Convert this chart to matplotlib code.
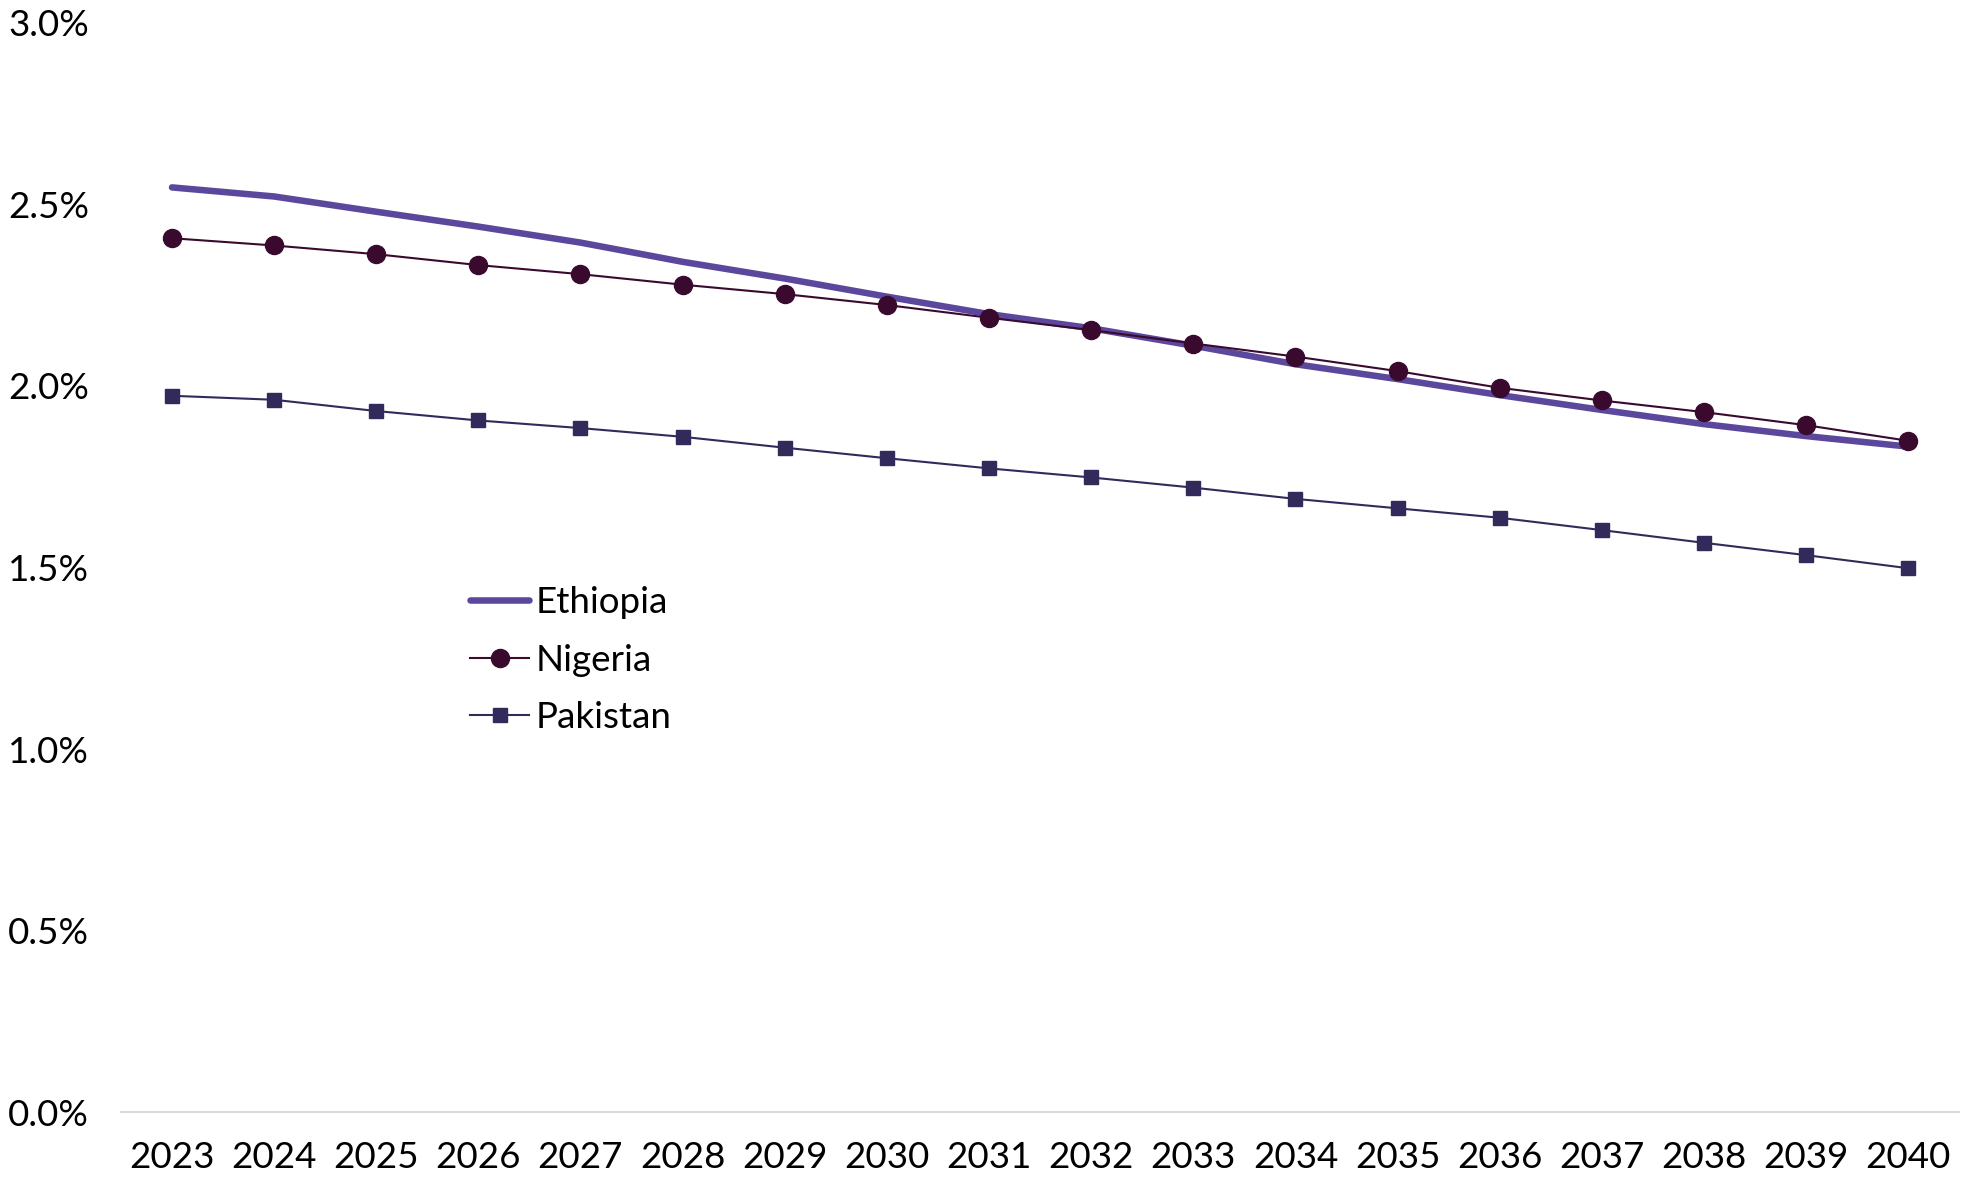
import matplotlib.pyplot as plt
from matplotlib.ticker import FuncFormatter, MultipleLocator
import numpy as np

plt.rcParams['font.family'] = ['Lato', 'DejaVu Sans']

# ---------------------------------------------------------------------
# Data (annual growth, %)
# ---------------------------------------------------------------------
years = [str(y) for y in range(2023, 2041)]

ethiopia = [2.547, 2.522, 2.480, 2.439, 2.395, 2.342, 2.296, 2.246, 2.198,
            2.159, 2.111, 2.060, 2.019, 1.975, 1.934, 1.895, 1.862, 1.833]
nigeria = [2.407, 2.387, 2.363, 2.333, 2.308, 2.279, 2.253, 2.223, 2.188,
           2.154, 2.117, 2.081, 2.041, 1.995, 1.960, 1.928, 1.892, 1.849]
pakistan = [1.973, 1.962, 1.931, 1.905, 1.884, 1.860, 1.830, 1.801, 1.773,
            1.748, 1.720, 1.689, 1.663, 1.637, 1.603, 1.568, 1.534, 1.498]

c_eth = '#5B479C'
c_nga = '#3A0A2E'
c_pak = '#312A5B'

fig = plt.figure(figsize=(19.79, 11.77), dpi=100)
ax = fig.add_axes([0.0611, 0.0552, 0.9289, 0.9253])

x = np.arange(len(years))
ax.plot(x, ethiopia, color=c_eth, lw=4.7, solid_capstyle='round', label='Ethiopia')
ax.plot(x, nigeria, color=c_nga, lw=1.5, marker='o', ms=13, label='Nigeria')
ax.plot(x, pakistan, color=c_pak, lw=1.5, marker='s', ms=10.5, label='Pakistan')

ax.set_xlim(-0.5, len(years) - 0.5)
ax.set_ylim(0, 3.0)
ax.set_xticks(x)
ax.set_xticklabels(years)
ax.yaxis.set_major_locator(MultipleLocator(0.5))
ax.yaxis.set_major_formatter(FuncFormatter(lambda v, p: f"{v:.1f}%"))

for s in ['top', 'right', 'left']:
    ax.spines[s].set_visible(False)
ax.spines['bottom'].set_color('#D9D9D9')
ax.spines['bottom'].set_linewidth(1.5)

ax.tick_params(axis='both', length=0, labelsize=26.5, colors='black')
ax.tick_params(axis='x', pad=21)
ax.tick_params(axis='y', pad=23)

ax.legend(loc='upper left', bbox_to_anchor=(0.19, 0.483), frameon=False,
          fontsize=26.5, handlelength=1.6, handletextpad=0.17, labelspacing=0.67,
          borderpad=0, borderaxespad=0)

plt.savefig('out.png', dpi=100)
